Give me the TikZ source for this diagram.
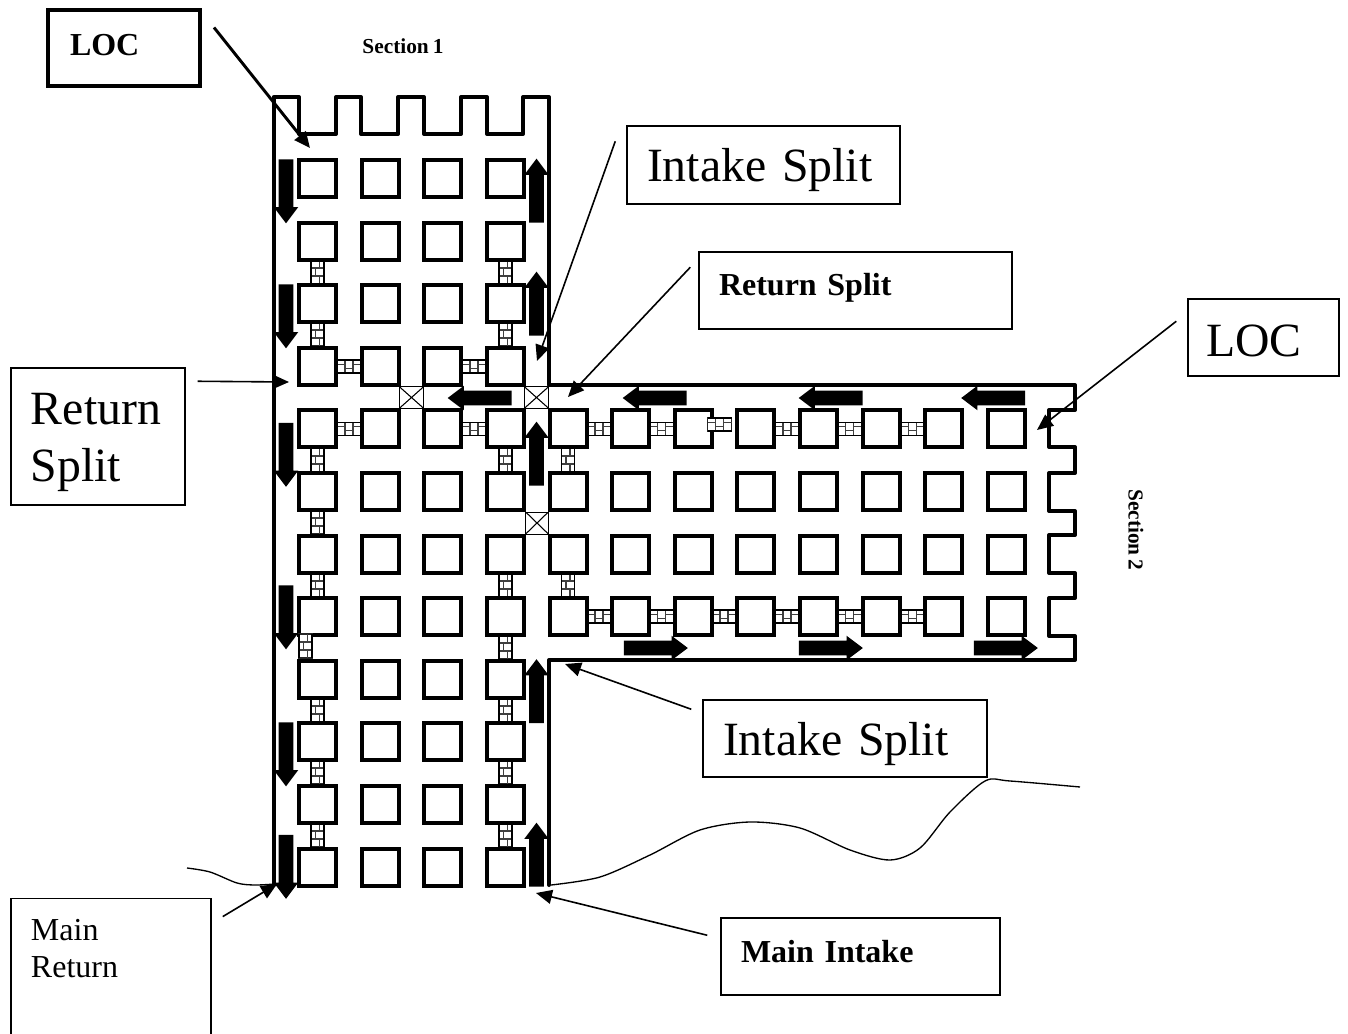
\documentclass[tikz,border=0pt]{standalone}
\usepackage{xcolor}
\usepackage{fontspec}
\setmainfont[WordSpace=0.75]{Liberation Serif}
\usepackage{tikz}
\usetikzlibrary{arrows.meta,shapes.arrows}
\newcommand{\toppad}[1]{\rule{0pt}{#1}}
\newcommand{\botpad}[1]{\rule[-#1]{0pt}{1pt}}
\tikzset{
  pillar/.style={draw, line width=3pt, minimum size=27.75pt, inner sep=0pt, fill=white},
  wall/.style={line width=3pt, line join=round, line cap=round},
  label/.style={draw, line width=1.1pt, fill=white, inner ysep=0pt, inner xsep=15pt, align=left},
  big/.style={font=\fontsize{35.8}{43}\selectfont},
  mid/.style={font=\fontsize{24}{27.6}\selectfont},
  midb/.style={font=\fontsize{24}{27.6}\selectfont\bfseries},
  small/.style={font=\fontsize{16}{18}\selectfont\bfseries},
  leader/.style={-{Triangle[length=12pt, width=10.5pt]}, line width=1.2pt},
  airflow/.style={single arrow, fill=black, inner sep=0pt, inner ysep=5.25pt, minimum height=48pt,
                  single arrow head extend=3.75pt, single arrow tip angle=74},
  regulator/.style={draw, line width=0.7pt, inner sep=0pt,
    path picture={\draw[line width=0.8pt] (path picture bounding box.north west)--(path picture bounding box.south east)
                  (path picture bounding box.south west)--(path picture bounding box.north east);}},
  brick/.pic={
    \draw[line width=0.8pt, fill=white, draw=black!85] (-6.5,-12) rectangle (6.5,12);
    \draw[line width=0.8pt, draw=black!75] (-6.5,-4)--(6.5,-4) (-6.5,4)--(6.5,4) (2,-12)--(2,-4) (-2,-4)--(-2,4) (2,4)--(2,12);
    \draw[line width=1.3pt] (-6.5,-12)--(-6.5,12) (6.5,-12)--(6.5,12);
  },
}
\begin{document}
\begin{tikzpicture}[x=0.75pt, y=-0.75pt]
  \useasboundingbox (0,0) rectangle (1348,1034);
  % bricks
  \foreach \y in {272,334,460,522,585,710,772,835}
    \pic at (317.5,\y) {brick};
  \foreach \y in {272,334,460,585,647,710,772,835}
    \pic at (505.5,\y) {brick};
  \foreach \y in {460,585}
    \pic at (568,\y) {brick};
  \foreach \x in {349,474}{
    \pic[rotate=90] at (\x,366.3) {brick};
    \pic[rotate=90] at (\x,428.9) {brick};
  }
  \foreach \x in {599,661.5,787,849.5,912.5}
    \pic[rotate=90] at (\x,428.9) {brick};
  \foreach \x in {599,661.5,724,787,849.5,912.5}
    \pic[rotate=90] at (\x,616.7) {brick};

  % pillars
  \foreach \r in {0,...,11}
    \foreach \c in {0,...,3}
      \node[pillar] (p\r-\c) at ({317.5+\c*62.6},{178.5+\r*62.6}) {};
  \foreach \r in {4,...,7}
    \foreach \c in {0,...,7}
      \node[pillar] (q\r-\c) at ({568+\c*62.6},{178.5+\r*62.6}) {};
  \pic at (305.5,646) {brick};
  \pic[rotate=90] at (719.5,424.5) {brick};

  % walls
  \draw[wall] (273.5,885)--(273.5,97)--(299,97)--(299,134)--(336,134)--(336,97)--(361,97)--(361,134)
    --(398,134)--(398,97)--(424,97)--(424,134)--(461,134)--(461,97)--(487,97)--(487,134)
    --(523,134)--(523,97)--(549,97)--(549,385)--(1075,385)--(1075,410)--(1049,410)--(1049,447)
    --(1075,447)--(1075,473)--(1049,473)--(1049,511)--(1075,511)--(1075,535)--(1049,535)--(1049,573)
    --(1075,573)--(1075,598)--(1049,598)--(1049,636)--(1075,636)--(1075,660)--(549,660)--(549,885);

  % regulators
  \node[regulator, minimum width=18pt, minimum height=16pt] (reg1) at (411.5,397.5) {};
  \node[regulator, minimum width=18pt, minimum height=16pt] (reg2) at (536.5,397.5) {};
  \node[regulator, minimum width=17pt, minimum height=16.5pt] (reg3) at (537,523) {};

  % air arrows
  \foreach \y [count=\i] in {186.5,311.5,450,612.5,749.5,862}
    \node[airflow, rotate=-90] (down\i) at (286,\y) {};
  \foreach \y [count=\i] in {195.5,308.5,458.5,696,859.5}
    \node[airflow, rotate=90] (up\i) at (536.5,\y) {};
  \foreach \x [count=\i] in {484.5,659.5,835.5,998}
    \node[airflow, rotate=180] (back\i) at (\x,398) {};
  \foreach \x [count=\i] in {651,826,1001}
    \node[airflow] (fwd\i) at (\x,648) {};

  % boxes
  \node[label, midb, line width=3pt, text width=84pt, minimum height=57pt] (loc1) at (124,48.5) {\botpad{6pt}\hspace*{1.5pt}LOC};
  \node[label, big, text width=174.75pt, minimum height=58.5pt] (isplit1) at (763.5,165) {\toppad{33pt}Intake Split};
  \node[label, midb, text width=204.75pt, minimum height=57.75pt] (rsplit1) at (855.5,290.5) {\botpad{9pt}Return Split};
  \node[label, big, text width=83.25pt, minimum height=57.75pt] (loc2) at (1263.5,337.5) {\toppad{28.5pt}\hspace*{-1.5pt}LOC};
  \node[label, big, text width=100.5pt, minimum height=102.75pt] (rsplit2) at (98,436.5) {\toppad{32pt}Return\\Split};
  \node[label, big, text width=183pt, minimum height=57.75pt] (isplit2) at (845,738.5) {\toppad{33pt}Intake Split};
  \node[label, midb, text width=179.25pt, minimum height=57.75pt] (mintake) at (860.5,956.5) {\botpad{7pt}Main Intake};
  \node[label, mid, text width=120pt, minimum height=130pt] (mreturn) at (111,985) {Main\\Return\\\mbox{}\\\mbox{}};
  \node[small] (sec1) at (403,46) {Section 1};
  \node[small, rotate=-90] (sec2) at (1136,530) {Section 2};

  % leaders
  \coordinate (loc1tip) at (310,148);
  \coordinate (isplit1tip) at (537,361);
  \coordinate (rsplit1tip) at (568,397);
  \coordinate (loc2tip) at (1037,430);
  \coordinate (rsplit2tip) at (289,382);
  \coordinate (isplit2tip) at (565,664);
  \coordinate (mintaketip) at (536,893);
  \coordinate (mreturntip) at (277,884);
  \draw[leader, line width=2.2pt] ([shift={(12,19)}]loc1.north east)--(loc1tip);
  \draw[leader] ([shift={(-11,16)}]isplit1.north west)--(isplit1tip);
  \draw[leader] ([shift={(-8,16)}]rsplit1.north west)--(rsplit1tip);
  \draw[leader] ([shift={(-11,23)}]loc2.north west)--(loc2tip);
  \draw[leader] ([shift={(12,14)}]rsplit2.north east)--(rsplit2tip);
  \draw[leader] ([shift={(-11,10)}]isplit2.north west)--(isplit2tip);
  \draw[leader] ([shift={(-13,18)}]mintake.north west)--(mintaketip);
  \draw[leader] ([shift={(11,19)}]mreturn.north east)--(mreturntip);

  % section edges
  \draw[line width=1pt] plot[smooth] coordinates {(187,868) (210,872) (237,883) (255,885) (275,884)};
  \draw[line width=1pt] plot[smooth] coordinates {(551,885) (600,877) (650,855) (700,830) (750,822)
    (800,828) (850,850) (890,860) (920,848) (950,812) (985,781) (1010,781) (1080,787)};
\end{tikzpicture}
\end{document}
